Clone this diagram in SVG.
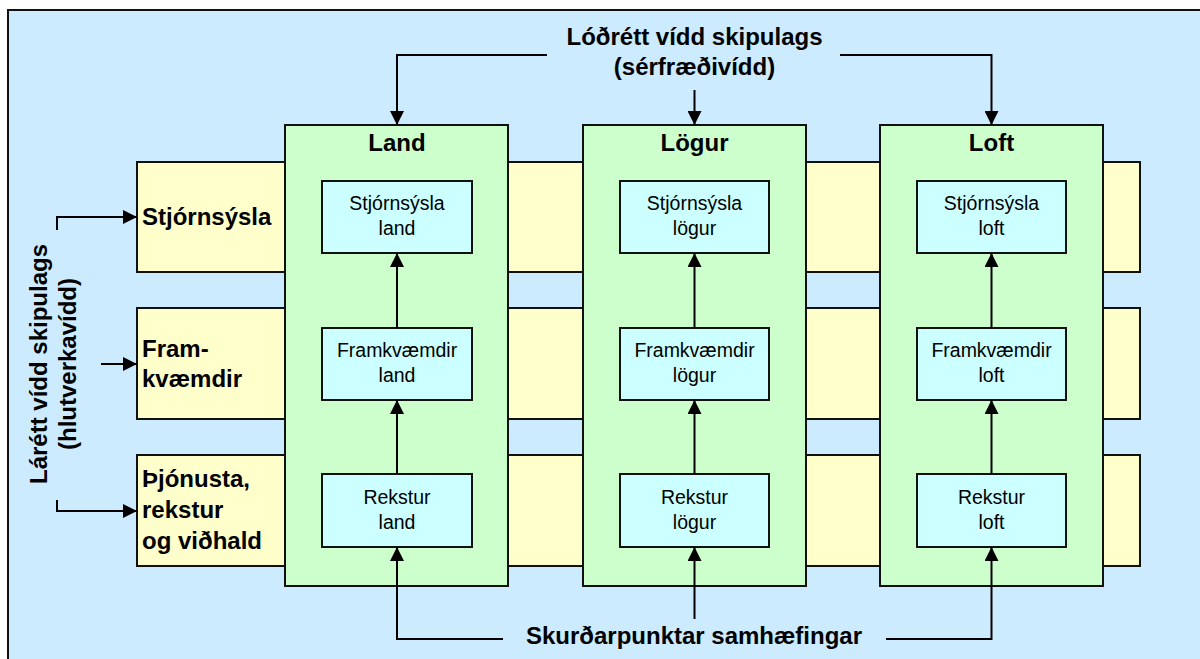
<svg xmlns="http://www.w3.org/2000/svg" width="1200" height="659" viewBox="0 0 1200 659">
  <defs>
    <marker id="arrow" viewBox="0 0 14 14" refX="14" refY="7" markerWidth="14" markerHeight="14" markerUnits="userSpaceOnUse" orient="auto">
      <path d="M0,0 L14,7 L0,14 Z" fill="#000"/>
    </marker>
    <style>
      .frame { fill: #CCEBFF; stroke: #111; stroke-width: 2; }
      .row { fill: #FFFFCC; stroke: #111; stroke-width: 2; }
      .col { fill: #CCFFCC; stroke: #111; stroke-width: 2; }
      .unit { fill: #CCFFFF; stroke: #111; stroke-width: 2; }
      .big { font-family: "Liberation Sans", Arial, sans-serif; font-weight: bold; font-size: 24px; fill: #000; }
      .small { font-family: "Liberation Sans", Arial, sans-serif; font-size: 19.5px; fill: #000; text-anchor: middle; }
      .mid { text-anchor: middle; }
      .conn { fill: none; stroke: #000; stroke-width: 2; }
    </style>
  </defs>

  <!-- backdrop -->
  <rect class="frame" x="8" y="10" width="1200" height="660"/>

  <!-- horizontal rows (functional dimension) -->
  <g id="row-stjornsysla">
    <rect class="row" x="137" y="162" width="1003" height="110"/>
    <text class="big" x="142" y="225">Stjórnsýsla</text>
  </g>
  <g id="row-framkvaemdir">
    <rect class="row" x="137" y="308" width="1003" height="111"/>
    <text class="big" x="142" y="357">Fram-</text>
    <text class="big" x="142" y="387">kvæmdir</text>
  </g>
  <g id="row-thjonusta">
    <rect class="row" x="137" y="455" width="1003" height="111"/>
    <text class="big" x="142" y="487">Þjónusta,</text>
    <text class="big" x="142" y="518">rekstur</text>
    <text class="big" x="142" y="549">og viðhald</text>
  </g>

  <!-- vertical columns (specialist dimension) -->
  <g id="col-land">
    <rect class="col" x="285" y="125" width="223" height="461"/>
    <text class="big mid" x="397" y="151">Land</text>
  </g>
  <g id="col-logur">
    <rect class="col" x="583" y="125" width="223" height="461"/>
    <text class="big mid" x="694.5" y="151">Lögur</text>
  </g>
  <g id="col-loft">
    <rect class="col" x="880" y="125" width="223" height="461"/>
    <text class="big mid" x="991.5" y="151">Loft</text>
  </g>

  <!-- units at each intersection -->
  <g id="unit-stj-land">
    <rect class="unit" x="322" y="181" width="150" height="72"/>
    <text class="small" x="397" y="210">Stjórnsýsla</text>
    <text class="small" x="397" y="235">land</text>
  </g>
  <g id="unit-fram-land">
    <rect class="unit" x="322" y="328" width="150" height="72"/>
    <text class="small" x="397" y="357">Framkvæmdir</text>
    <text class="small" x="397" y="382">land</text>
  </g>
  <g id="unit-rek-land">
    <rect class="unit" x="322" y="474" width="150" height="73"/>
    <text class="small" x="397" y="504">Rekstur</text>
    <text class="small" x="397" y="529">land</text>
  </g>

  <g id="unit-stj-logur">
    <rect class="unit" x="620" y="181" width="149" height="72"/>
    <text class="small" x="694.5" y="210">Stjórnsýsla</text>
    <text class="small" x="694.5" y="235">lögur</text>
  </g>
  <g id="unit-fram-logur">
    <rect class="unit" x="620" y="328" width="149" height="72"/>
    <text class="small" x="694.5" y="357">Framkvæmdir</text>
    <text class="small" x="694.5" y="382">lögur</text>
  </g>
  <g id="unit-rek-logur">
    <rect class="unit" x="620" y="474" width="149" height="73"/>
    <text class="small" x="694.5" y="504">Rekstur</text>
    <text class="small" x="694.5" y="529">lögur</text>
  </g>

  <g id="unit-stj-loft">
    <rect class="unit" x="917" y="181" width="149" height="72"/>
    <text class="small" x="991.5" y="210">Stjórnsýsla</text>
    <text class="small" x="991.5" y="235">loft</text>
  </g>
  <g id="unit-fram-loft">
    <rect class="unit" x="917" y="328" width="149" height="72"/>
    <text class="small" x="991.5" y="357">Framkvæmdir</text>
    <text class="small" x="991.5" y="382">loft</text>
  </g>
  <g id="unit-rek-loft">
    <rect class="unit" x="917" y="474" width="149" height="73"/>
    <text class="small" x="991.5" y="504">Rekstur</text>
    <text class="small" x="991.5" y="529">loft</text>
  </g>

  <!-- dimension captions -->
  <g id="caption-vertical">
    <text class="big mid" x="694.5" y="45">Lóðrétt vídd skipulags</text>
    <text class="big mid" x="694.5" y="75">(sérfræðivídd)</text>
  </g>
  <g id="caption-horizontal">
    <text class="big mid" transform="translate(47,364) rotate(-90)">Lárétt vídd skipulags</text>
    <text class="big mid" transform="translate(76,364) rotate(-90)">(hlutverkavídd)</text>
  </g>
  <g id="caption-intersections">
    <text class="big mid" x="694" y="644">Skurðarpunktar samhæfingar</text>
  </g>

  <!-- connectors -->
  <g id="connectors">
    <path class="conn" d="M547,55 H397 V125" marker-end="url(#arrow)"/>
    <path class="conn" d="M694.5,90 V125" marker-end="url(#arrow)"/>
    <path class="conn" d="M840,55 H991.5 V125" marker-end="url(#arrow)"/>

    <path class="conn" d="M57,230 V217 H137" marker-end="url(#arrow)"/>
    <path class="conn" d="M101,364 H137" marker-end="url(#arrow)"/>
    <path class="conn" d="M57,500 V511 H137" marker-end="url(#arrow)"/>

    <path class="conn" d="M397,328 V253" marker-end="url(#arrow)"/>
    <path class="conn" d="M397,474 V400" marker-end="url(#arrow)"/>
    <path class="conn" d="M694.5,328 V253" marker-end="url(#arrow)"/>
    <path class="conn" d="M694.5,474 V400" marker-end="url(#arrow)"/>
    <path class="conn" d="M991.5,328 V253" marker-end="url(#arrow)"/>
    <path class="conn" d="M991.5,474 V400" marker-end="url(#arrow)"/>

    <path class="conn" d="M503,639 H397 V547" marker-end="url(#arrow)"/>
    <path class="conn" d="M694.5,619 V547" marker-end="url(#arrow)"/>
    <path class="conn" d="M886,639 H991.5 V547" marker-end="url(#arrow)"/>
  </g>
</svg>
